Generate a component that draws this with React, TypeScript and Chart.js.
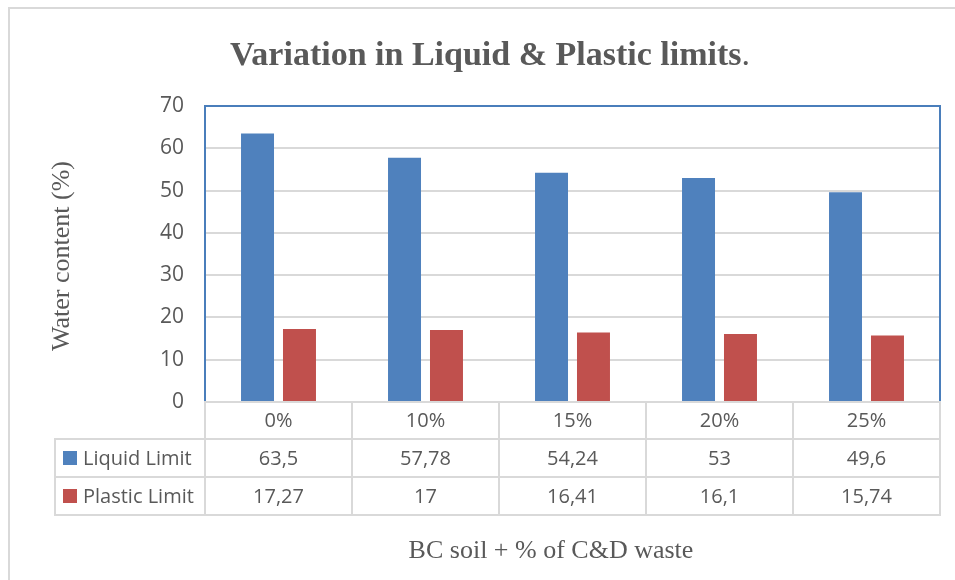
import React, { useEffect, useRef } from 'react';
import { Chart, registerables } from 'chart.js';

Chart.register(...registerables);

const categories = ['0%', '10%', '15%', '20%', '25%'];
const liquidLimit = [63.5, 57.78, 54.24, 53, 49.6];
const plasticLimit = [17.27, 17, 16.41, 16.1, 15.74];
const seriesNames = ['Liquid Limit', 'Plastic Limit'];
const seriesColors = ['#4F81BD', '#C0504D'];
const yMin = 0;
const yMax = 70;
const yStep = 10;
const chartTitle = 'Variation in Liquid & Plastic limits';
const yTitle = 'Water content (%)';
const xTitle = 'BC soil + % of C&D waste';

const TEXT = '#595959';
const GRID = '#d9d9d9';
const SANS = "'Open Sans', sans-serif";
const SERIF = "'Liberation Serif', 'Times New Roman', serif";

const fmt = (v: number) => String(v).replace('.', ',');

const decorPlugin = {
  id: 'decor',
  beforeDraw(chart: any) {
    const ctx = chart.ctx;
    ctx.save();
    ctx.fillStyle = '#ffffff';
    ctx.fillRect(0, 0, chart.width, chart.height);
    ctx.strokeStyle = GRID;
    ctx.lineWidth = 2;
    ctx.strokeRect(9, 8, chart.width + 20, chart.height + 20);
    ctx.restore();
  },
  afterDraw(chart: any) {
    const ctx = chart.ctx;
    const { left, right, top, bottom } = chart.chartArea;
    const xs = chart.scales.x;
    const n = categories.length;
    const cellW = (right - left) / n;
    ctx.save();

    // Title
    ctx.fillStyle = TEXT;
    ctx.textBaseline = 'alphabetic';
    ctx.font = `bold 34px ${SERIF}`;
    const wBold = ctx.measureText(chartTitle).width;
    ctx.font = `34px ${SERIF}`;
    const wDot = ctx.measureText('.').width;
    const tx = 490 - (wBold + wDot) / 2;
    ctx.textAlign = 'left';
    ctx.font = `bold 34px ${SERIF}`;
    ctx.fillText(chartTitle, tx, 65);
    ctx.font = `34px ${SERIF}`;
    ctx.fillText('.', tx + wBold, 65);

    // Y title
    ctx.save();
    ctx.translate(62, 256);
    ctx.rotate(-Math.PI / 2);
    ctx.font = `26px ${SERIF}`;
    ctx.textAlign = 'center';
    ctx.textBaseline = 'middle';
    ctx.fillText(yTitle, 0, 0);
    ctx.restore();

    // X title
    ctx.font = `26px ${SERIF}`;
    ctx.textAlign = 'center';
    ctx.textBaseline = 'middle';
    ctx.fillText(xTitle, 551, 551);

    // Plot border (top, left, right)
    ctx.strokeStyle = '#4A7EBB';
    ctx.lineWidth = 2;
    ctx.beginPath();
    ctx.moveTo(left, bottom);
    ctx.lineTo(left, top);
    ctx.lineTo(right, top);
    ctx.lineTo(right, bottom);
    ctx.stroke();

    // Data table
    const y0 = bottom;
    const y1 = y0 + 37;
    const y2 = y1 + 38;
    const y3 = y2 + 38;
    const legendLeft = 55;
    ctx.strokeStyle = GRID;
    ctx.lineWidth = 2;
    const line = (a: number, b: number, c: number, d: number) => {
      ctx.beginPath();
      ctx.moveTo(a, b);
      ctx.lineTo(c, d);
      ctx.stroke();
    };
    line(left - 1, y0, right + 1, y0);
    line(legendLeft - 1, y1, right + 1, y1);
    line(legendLeft - 1, y2, right + 1, y2);
    line(legendLeft - 1, y3, right + 1, y3);
    for (let i = 0; i <= n; i++) {
      const x = left + i * cellW;
      line(x, y0, x, y3);
    }
    line(legendLeft, y1, legendLeft, y3);

    ctx.fillStyle = TEXT;
    ctx.font = `20px ${SANS}`;
    ctx.textAlign = 'center';
    ctx.textBaseline = 'middle';
    const rows = [liquidLimit, plasticLimit];
    const rowMid = [(y1 + y2) / 2, (y2 + y3) / 2];
    categories.forEach((c, i) => {
      const cx = xs.getPixelForValue(i);
      ctx.fillText(c, cx, (y0 + y1) / 2 + 1);
      rows.forEach((r, k) => {
        ctx.fillText(fmt(r[i]), cx, rowMid[k] + 1);
      });
    });

    // Legend keys
    ctx.textAlign = 'left';
    seriesNames.forEach((name, k) => {
      ctx.fillStyle = seriesColors[k];
      ctx.fillRect(63, rowMid[k] - 7, 14, 14);
      ctx.fillStyle = TEXT;
      ctx.fillText(name, 83, rowMid[k] + 1);
    });

    ctx.restore();
  },
};

export default function App() {
  const ref = useRef<HTMLCanvasElement | null>(null);
  useEffect(() => {
    if (!ref.current) return;
    const chart = new Chart(ref.current, {
      type: 'bar',
      data: {
        labels: categories,
        datasets: [
          {
            label: seriesNames[0],
            data: liquidLimit,
            backgroundColor: seriesColors[0],
            categoryPercentage: 0.571,
            barPercentage: 0.786,
          },
          {
            label: seriesNames[1],
            data: plasticLimit,
            backgroundColor: seriesColors[1],
            categoryPercentage: 0.571,
            barPercentage: 0.786,
          },
        ],
      },
      options: {
        responsive: false,
        animation: false,
        layout: { padding: { left: 0, top: 106, right: 15, bottom: 178 } },
        plugins: {
          legend: { display: false },
          title: { display: false },
          tooltip: { enabled: false },
        },
        scales: {
          x: { display: false },
          y: {
            min: yMin,
            max: yMax,
            ticks: {
              stepSize: yStep,
              padding: 21,
              color: TEXT,
              font: { family: SANS, size: 21 },
            },
            grid: { color: GRID, lineWidth: 2, drawTicks: false },
            border: { display: false },
            afterFit: (scale: any) => {
              scale.width = 205;
            },
          },
        },
      },
      plugins: [decorPlugin],
    });
    return () => chart.destroy();
  }, []);
  return (
    <div style={{ position: 'absolute', left: 0, top: 0, width: 955, height: 580 }}>
      <canvas ref={ref} width={955} height={580} style={{ display: 'block' }} />
    </div>
  );
}
